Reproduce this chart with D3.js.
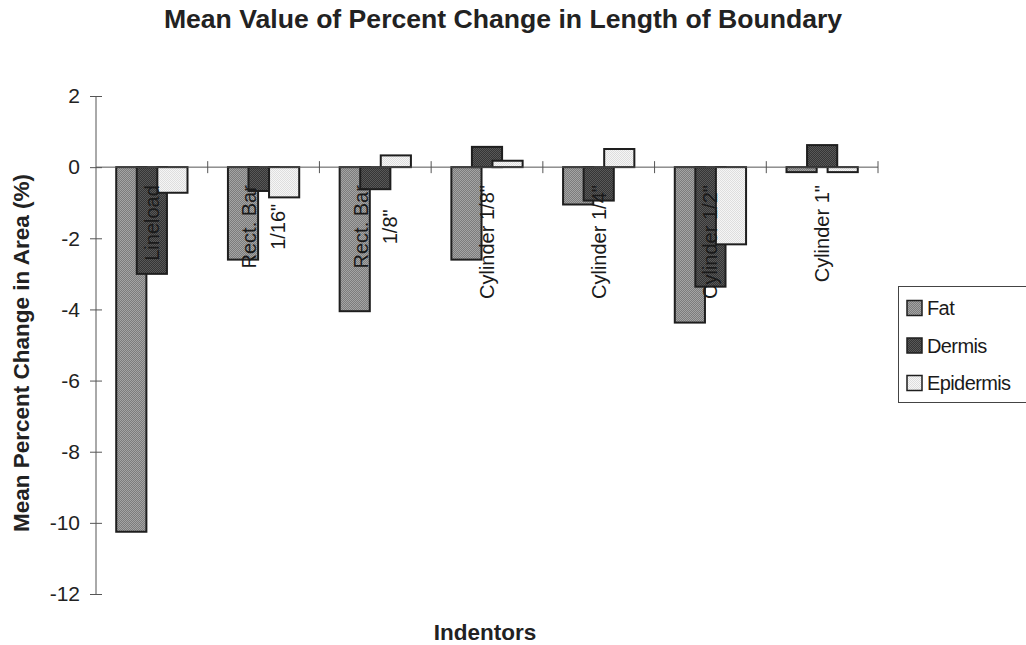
<!DOCTYPE html>
<html>
<head>
<meta charset="utf-8">
<script src="https://cdn.jsdelivr.net/npm/d3@7"></script>
<style>
  html, body { margin: 0; padding: 0; background: #fff; }
  svg { display: block; font-family: "Liberation Sans", Arial, Helvetica, sans-serif; }
</style>
</head>
<body>
<svg id="chart" width="1026" height="645"></svg>
<script>
// Indentor categories (label lines as drawn beside the axis)
const categories = ["Lineload", "Rect. Bar 1/16\"", "Rect. Bar 1/8\"", "Cylinder 1/8\"", "Cylinder 1/4\"", "Cylinder 1/2\"", "Cylinder 1\""];
const categoryLines = [["Lineload"], ["Rect. Bar", "1/16\""], ["Rect. Bar", "1/8\""], ["Cylinder 1/8\""], ["Cylinder 1/4\""], ["Cylinder 1/2\""], ["Cylinder 1\""]];

// Mean percent change per tissue layer
const seriesNames = ["Fat", "Dermis", "Epidermis"];
const fat       = [-10.25, -2.6, -4.05, -2.6, -1.05, -4.37, -0.14];
const dermis    = [-3.0, -0.67, -0.62, 0.57, -0.94, -3.36, 0.62];
const epidermis = [-0.72, -0.85, 0.33, 0.18, 0.51, -2.17, -0.14];
const seriesValues = [fat, dermis, epidermis];

const yTicks = [2, 0, -2, -4, -6, -8, -10, -12];

const svg = d3.select("#chart");
const plot = { left: 96, right: 878, top: 96, bottom: 594 };

const x = d3.scaleBand().domain(categories).range([plot.left, plot.right]).paddingInner(0).paddingOuter(0);
const y = d3.scaleLinear().domain([-12, 2]).range([plot.bottom, plot.top]);

// Fill patterns: fine two-tone dither for each tissue
const defs = svg.append("defs");
function dither(id, a, b) {
  const p = defs.append("pattern").attr("id", id).attr("patternUnits", "userSpaceOnUse")
    .attr("width", 2).attr("height", 2);
  p.append("rect").attr("width", 2).attr("height", 2).attr("fill", a);
  p.append("rect").attr("width", 1).attr("height", 1).attr("fill", b);
  p.append("rect").attr("x", 1).attr("y", 1).attr("width", 1).attr("height", 1).attr("fill", b);
}
dither("pFat", "#7c7c7c", "#a4a4a4");
dither("pDermis", "#353535", "#585858");
dither("pEpi", "#f6f6f6", "#dedede");
const fills = ["url(#pFat)", "url(#pDermis)", "url(#pEpi)"];

// Bars: overlapping clusters, each later series drawn above the previous one
const bw = x.bandwidth();
const barW = bw * 0.27;
const step = bw * 0.184;
seriesValues.forEach((vals, si) => {
  svg.append("g").selectAll("rect").data(vals).join("rect")
    .attr("x", (d, i) => x(categories[i]) + bw / 2 + (si - 1) * step - barW / 2)
    .attr("y", d => y(Math.max(0, d)))
    .attr("width", barW)
    .attr("height", d => Math.abs(y(d) - y(0)))
    .attr("fill", fills[si])
    .attr("stroke", "#1e1e1e")
    .attr("stroke-width", 2);
});

// Y axis with crossing ticks
const axisColor = "#555";
const yAxis = svg.append("g").attr("transform", `translate(${plot.left},0)`)
  .call(d3.axisLeft(y).tickValues(yTicks).tickSize(6).tickPadding(10).tickFormat(d => String(d)));
yAxis.select(".domain").attr("stroke", axisColor).attr("d", `M0,${plot.top}V${plot.bottom}`);
yAxis.selectAll(".tick line").attr("stroke", axisColor).attr("x1", -6).attr("x2", 6);
yAxis.selectAll(".tick text").attr("font-size", 21).attr("fill", "#222")
  .attr("font-family", "'Liberation Sans', Arial, sans-serif").attr("x", -16);

// X axis along zero with category boundary ticks
const xg = svg.append("g");
xg.append("line").attr("x1", plot.left).attr("x2", plot.right).attr("y1", y(0)).attr("y2", y(0))
  .attr("stroke", axisColor);
const bounds = categories.map(c => x(c)).concat([plot.right]).slice(1);
xg.selectAll("line.tk").data(bounds).join("line").attr("class", "tk")
  .attr("x1", d => d).attr("x2", d => d).attr("y1", y(0) - 6).attr("y2", y(0) + 6)
  .attr("stroke", axisColor);

// Rotated category labels just below the zero line
const labelTop = y(0) + 18;
const lineGap = 29;
categoryLines.forEach((lines, i) => {
  const cx = x(categories[i]) + bw / 2;
  const g = svg.append("g");
  const texts = lines.map((t, k) => g.append("text").text(t)
    .attr("font-size", 20).attr("fill", "#1a1a1a")
    .attr("text-anchor", "middle").attr("dominant-baseline", "central"));
  const maxLen = d3.max(texts, t => t.node().getComputedTextLength());
  const cy = labelTop + maxLen / 2;
  texts.forEach((t, k) => {
    const dx = (k - (lines.length - 1) / 2) * lineGap;
    t.attr("transform", `translate(${cx + dx},${cy}) rotate(-90)`);
  });
});

// Titles
svg.append("text").attr("x", 503).attr("y", 28).attr("text-anchor", "middle")
  .attr("font-size", 26.6).attr("font-weight", "bold").attr("fill", "#222")
  .text("Mean Value of Percent Change in Length of Boundary");
svg.append("text").attr("x", 485).attr("y", 640).attr("text-anchor", "middle")
  .attr("font-size", 22.5).attr("font-weight", "bold").attr("fill", "#222")
  .text("Indentors");
svg.append("text").attr("transform", `translate(29,353) rotate(-90)`).attr("text-anchor", "middle")
  .attr("font-size", 22.5).attr("font-weight", "bold").attr("fill", "#222")
  .text("Mean Percent Change in Area (%)");

// Legend
const lg = svg.append("g");
lg.append("rect").attr("x", 898.5).attr("y", 286.5).attr("width", 140).attr("height", 116)
  .attr("fill", "#fff").attr("stroke", "#444").attr("stroke-width", 1);
seriesNames.forEach((name, i) => {
  const yy = 308 + i * 37.5;
  lg.append("rect").attr("x", 907).attr("y", yy - 7.5).attr("width", 15).attr("height", 15)
    .attr("fill", fills[i]).attr("stroke", "#1e1e1e").attr("stroke-width", 1.5);
  lg.append("text").attr("x", 927).attr("y", yy).attr("dominant-baseline", "central")
    .attr("font-size", 20).attr("letter-spacing", -0.6).attr("fill", "#1a1a1a").text(name);
});
</script>
</body>
</html>
